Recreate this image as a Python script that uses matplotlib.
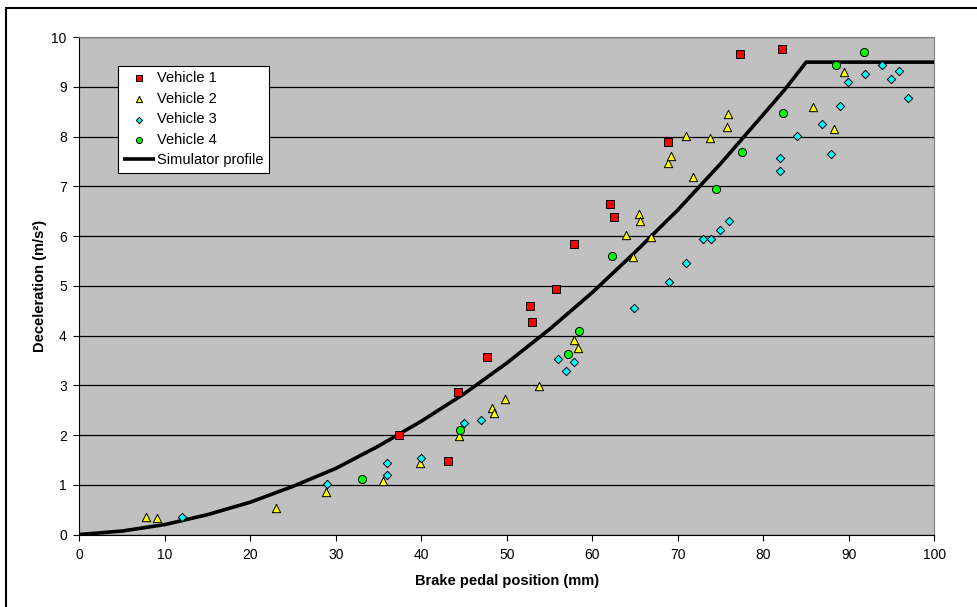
import matplotlib
matplotlib.use("Agg")
import matplotlib.pyplot as plt
from matplotlib.patches import Rectangle

plt.rcParams["font.family"] = ["Liberation Sans", "DejaVu Sans"]

# brake pedal position (mm) / deceleration (m/s2)
v1_x = [37.4, 43.1, 44.3, 47.7, 52.7, 52.9, 55.7, 57.8, 62.1, 62.5, 68.8, 77.3, 82.2]
v1_y = [2.00, 1.48, 2.86, 3.57, 4.60, 4.28, 4.93, 5.85, 6.65, 6.39, 7.90, 9.67, 9.76]

v2_x = [7.8, 9.1, 23.0, 28.8, 35.5, 39.8, 44.4, 48.2, 48.5, 49.8, 53.7, 57.8, 58.3,
        64.8, 63.9, 65.4, 65.6, 66.9, 68.8, 69.2, 71.8, 71.0, 73.8, 75.7, 75.8,
        85.8, 88.3, 89.4]
v2_y = [0.35, 0.33, 0.53, 0.86, 1.08, 1.43, 1.98, 2.54, 2.44, 2.73, 2.98, 3.91, 3.75,
        5.59, 6.02, 6.45, 6.30, 5.99, 7.47, 7.62, 7.19, 8.01, 7.97, 8.20, 8.45,
        8.60, 8.16, 9.31]

v3_x = [12.0, 29.0, 36.0, 36.0, 40.0, 45.0, 47.0, 56.0, 56.9, 57.9, 64.9, 69.0,
        70.9, 72.9, 73.9, 74.9, 76.0, 81.9, 81.9, 83.9, 86.9, 87.9, 88.9, 89.9,
        91.9, 93.9, 94.9, 95.9, 96.9]
v3_y = [0.35, 1.01, 1.20, 1.44, 1.53, 2.24, 2.30, 3.52, 3.29, 3.47, 4.56, 5.07,
        5.46, 5.95, 5.95, 6.13, 6.30, 7.58, 7.31, 8.02, 8.26, 7.65, 8.62, 9.11,
        9.27, 9.45, 9.17, 9.33, 8.78]

v4_x = [33.0, 44.5, 57.2, 58.4, 62.3, 74.4, 77.5, 82.3, 88.5, 91.8]
v4_y = [1.12, 2.10, 3.63, 4.10, 5.60, 6.95, 7.69, 8.47, 9.45, 9.70]

sim_x = [0, 5, 10, 15, 20, 25, 30, 35, 40, 45, 50, 55, 60, 65, 70, 75, 80, 82.5, 85, 100]
sim_y = [0.0, 0.07, 0.20, 0.40, 0.65, 0.97, 1.33, 1.78, 2.28, 2.83, 3.45, 4.13, 4.87,
         5.68, 6.53, 7.46, 8.45, 8.95, 9.50, 9.50]

fig = plt.figure(figsize=(9.78, 6.07), dpi=100)
ax = fig.add_axes([0.0811, 0.1194, 0.8744, 0.8192])
ax.set_facecolor("#C0C0C0")

ax.plot(sim_x, sim_y, color="black", lw=2.6, label="Simulator profile", zorder=3,
        solid_capstyle="butt")
ax.scatter(v1_x, v1_y, marker="s", s=30, c="#FF0000", edgecolors="black", lw=0.7,
           label="Vehicle 1", zorder=4)
ax.scatter(v2_x, v2_y, marker="^", s=36, c="#FFFF00", edgecolors="black", lw=0.7,
           label="Vehicle 2", zorder=4)
ax.scatter(v3_x, v3_y, marker="D", s=18, c="#00FFFF", edgecolors="black", lw=0.7,
           label="Vehicle 3", zorder=4)
ax.scatter(v4_x, v4_y, marker="o", s=34, c="#00FF00", edgecolors="black", lw=0.7,
           label="Vehicle 4", zorder=4)

ax.set_xlim(0, 100)
ax.set_ylim(0, 10)
ax.set_xticks(range(0, 101, 10))
ax.set_yticks(range(0, 11))
ax.yaxis.grid(True, color="black", lw=0.9)
ax.set_axisbelow(True)
ax.tick_params(direction="out", length=4, width=0.8, labelsize=10)
ax.tick_params(axis="x", pad=6)
ax.tick_params(axis="y", pad=5)

ax.spines["left"].set_color("black")
ax.spines["bottom"].set_color("black")
ax.spines["top"].set_color("#808080")
ax.spines["right"].set_color("#808080")

ax.set_xlabel("Brake pedal position (mm)", fontsize=10.5, fontweight="bold", labelpad=8)
ax.set_ylabel("Deceleration (m/s²)", fontsize=10.5, fontweight="bold", labelpad=3)

h, l = ax.get_legend_handles_labels()
order = [1, 2, 3, 4, 0]
leg = ax.legend([h[i] for i in order], [l[i] for i in order],
                loc="upper left", bbox_to_anchor=(0.045, 0.942), fontsize=10.5,
                frameon=True, fancybox=False, edgecolor="black", framealpha=1,
                markerscale=0.75, handlelength=2.2, handletextpad=0.15,
                labelspacing=0.45, borderpad=0.35, borderaxespad=0)
leg.get_frame().set_linewidth(0.8)

# black frame round the chart (only top and left edges fall inside the picture)
fig.patches.append(Rectangle((6 / 978, -0.1), 1.2, (607 - 8) / 607 + 0.1,
                             transform=fig.transFigure, fill=False,
                             edgecolor="black", lw=1.5))

fig.savefig("out.png", dpi=100)
